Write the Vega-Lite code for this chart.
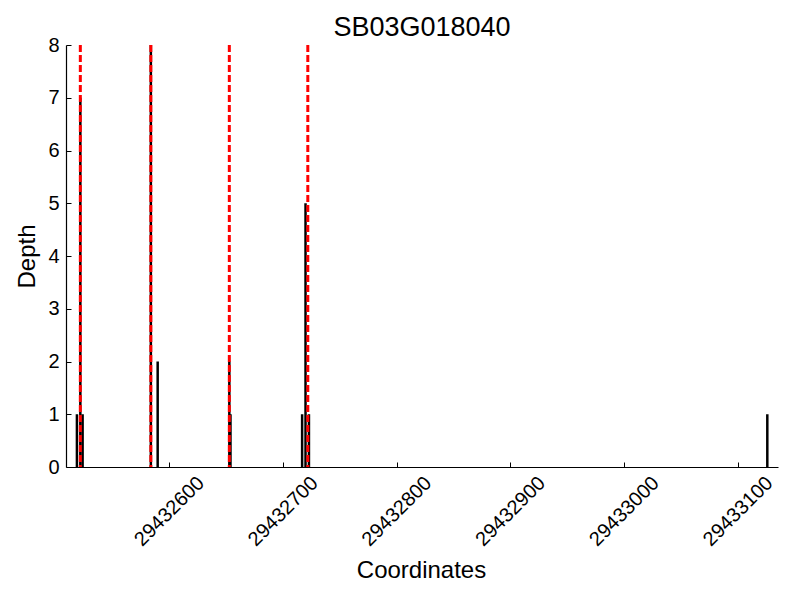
{
  "$schema": "https://vega.github.io/schema/vega-lite/v6.json",
  "width": 712,
  "height": 422,
  "autosize": "none",
  "padding": {"left": 66, "top": 45, "right": 22, "bottom": 133},
  "background": "white",
  "config": {"view": {"stroke": null}, "font": "Liberation Sans"},
  "title": {"text": "SB03G018040", "fontSize": 27, "fontWeight": "normal", "font": "Liberation Sans", "color": "black", "frame": "group", "anchor": "middle", "offset": 8, "dy": 15},
  "datasets": {
    "bars": [
      {"pos": 29432519, "depth": 1},
      {"pos": 29432522, "depth": 7},
      {"pos": 29432524, "depth": 1},
      {"pos": 29432584, "depth": 8},
      {"pos": 29432590, "depth": 2},
      {"pos": 29432653, "depth": 2},
      {"pos": 29432654, "depth": 1},
      {"pos": 29432717, "depth": 1},
      {"pos": 29432720, "depth": 5},
      {"pos": 29432723, "depth": 1},
      {"pos": 29433126, "depth": 1}
    ],
    "lines": [
      {"pos": 29432522},
      {"pos": 29432584},
      {"pos": 29432653},
      {"pos": 29432722}
    ]
  },
  "encoding": {
    "x": {
      "field": "pos", "type": "quantitative",
      "scale": {"domain": [29432509.4, 29433135.4], "nice": false, "zero": false},
      "axis": {
        "title": "Coordinates", "titleFontSize": 24, "titleFontWeight": "normal", "titleColor": "black", "titleFont": "Liberation Sans",
        "titleX": 355, "titleY": 110, "titleBaseline": "alphabetic", "titleAlign": "center",
        "values": [29432600, 29432700, 29432800, 29432900, 29433000, 29433100],
        "format": "d", "labelAngle": -45, "labelAlign": "center", "labelBaseline": "middle",
        "labelFontSize": 20, "labelColor": "black", "labelFont": "Liberation Sans", "labelPadding": 49, "labelFlush": false, "labelOverlap": false,
        "tickSize": -5, "tickColor": "black", "domainColor": "black", "domainWidth": 1.2, "tickWidth": 1, "grid": false
      }
    }
  },
  "layer": [
    {
      "data": {"name": "bars"},
      "mark": {"type": "rule", "color": "black", "strokeWidth": 2.5},
      "encoding": {
        "y": {
          "field": "depth", "type": "quantitative",
          "scale": {"domain": [0, 8], "nice": false},
          "axis": {
            "title": "Depth", "titleFontSize": 24, "titleFontWeight": "normal", "titleColor": "black", "titleFont": "Liberation Sans",
            "titleX": -39, "titleY": 211, "titleAngle": -90, "titleAlign": "center", "titleBaseline": "middle",
            "values": [0, 1, 2, 3, 4, 5, 6, 7, 8],
            "labelFontSize": 20, "labelColor": "black", "labelFont": "Liberation Sans", "labelPadding": 12, "labelFlush": false, "labelOverlap": false,
            "tickSize": -5, "tickColor": "black", "domainColor": "black", "domainWidth": 1.2, "tickWidth": 1, "grid": false
          }
        },
        "y2": {"datum": 0}
      }
    },
    {
      "data": {"name": "lines"},
      "mark": {"type": "rule", "color": "#ff0000", "strokeWidth": 3, "strokeDash": [7, 3]},
      "encoding": {}
    }
  ]
}
